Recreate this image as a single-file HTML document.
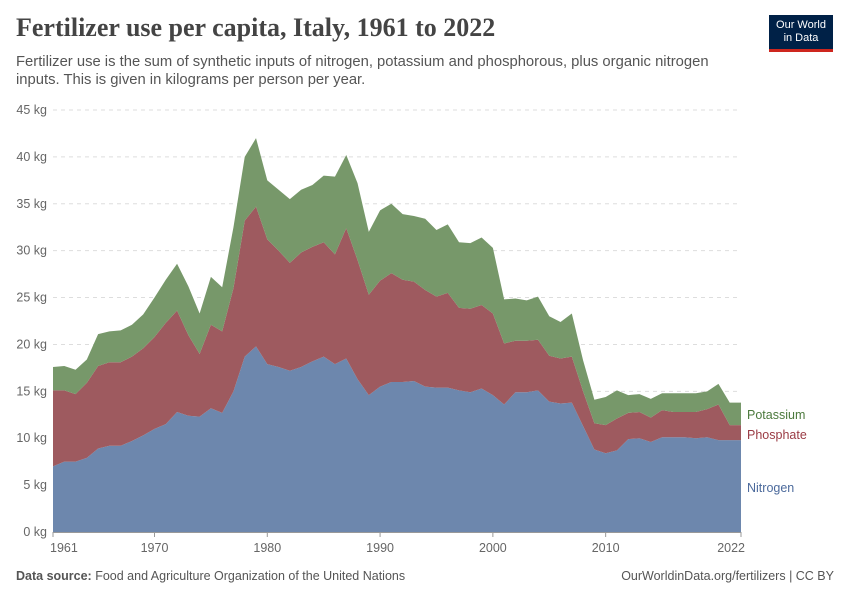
<!DOCTYPE html>
<html><head><meta charset="utf-8"><style>
body{margin:0;background:#fff;font-family:"Liberation Sans",sans-serif;}
#wrap{position:relative;width:850px;height:600px;overflow:hidden}
.t{position:absolute;white-space:nowrap}
</style></head><body>
<div id="wrap">
<div class="t" style="left:16px;top:13px;font-family:'Liberation Serif',serif;font-size:26px;color:#444;font-weight:bold">Fertilizer use per capita, Italy, 1961 to 2022</div>
<div class="t" style="left:16px;top:53px;font-size:14.8px;color:#555;line-height:18px">Fertilizer use is the sum of synthetic inputs of nitrogen, potassium and phosphorous, plus organic nitrogen<br>inputs. This is given in kilograms per person per year.</div>
<div style="position:absolute;left:769px;top:15px;width:64px;height:37px;background:#002147;color:#fff;font-size:11px;text-align:center;line-height:13px;padding-top:4px;box-sizing:border-box;border-bottom:3px solid #ce261e">Our World<br>in Data</div>
<svg id="chart" width="850" height="600" style="position:absolute;left:0;top:0"></svg>
<div class="t" style="left:16px;top:569px;font-size:12.5px;color:#555"><b>Data source:</b> Food and Agriculture Organization of the United Nations</div>
<div class="t" style="right:16px;top:569px;font-size:12.5px;color:#555">OurWorldinData.org/fertilizers | CC BY</div>
</div>
<script>
const years=[];for(let y=1961;y<=2022;y++)years.push(y);
const nitrogen=[7.0,7.5,7.5,7.9,8.9,9.2,9.2,9.7,10.3,11.0,11.5,12.8,12.4,12.3,13.2,12.7,15.0,18.7,19.8,17.9,17.6,17.2,17.6,18.2,18.7,17.9,18.5,16.3,14.6,15.5,16.0,16.0,16.1,15.5,15.4,15.4,15.1,14.9,15.3,14.6,13.6,14.9,14.9,15.1,13.9,13.7,13.8,11.3,8.8,8.4,8.7,9.9,10.0,9.6,10.1,10.1,10.1,10.0,10.1,9.8,9.8,9.8];
const phosphate=[8.1,7.6,7.2,8.0,8.8,8.9,8.9,9.0,9.3,9.8,10.8,10.8,8.6,6.7,8.9,8.7,11.0,14.5,14.9,13.3,12.4,11.5,12.2,12.2,12.2,11.7,13.9,12.7,10.7,11.3,11.6,10.9,10.6,10.3,9.7,10.1,8.8,8.9,8.9,8.7,6.5,5.5,5.5,5.4,4.9,4.8,4.9,3.7,2.8,3.0,3.4,2.8,2.8,2.6,2.9,2.7,2.7,2.8,3.0,3.8,1.6,1.6];
const potassium=[2.5,2.6,2.6,2.5,3.4,3.3,3.4,3.4,3.6,4.2,4.6,5.0,5.2,4.3,5.1,4.7,6.5,6.8,7.3,6.3,6.5,6.8,6.7,6.6,7.1,8.3,7.8,8.2,6.7,7.5,7.4,7.0,7.0,7.6,7.1,7.3,7.0,7.0,7.2,7.0,4.7,4.5,4.3,4.6,4.2,3.9,4.6,3.3,2.5,3.0,3.0,1.9,1.9,2.0,1.8,2.0,2.0,2.0,1.9,2.2,2.4,2.4];
const yTicks=[0,5,10,15,20,25,30,35,40,45];
const xTicks=[1961,1970,1980,1990,2000,2010,2022];
const seriesNames=["Nitrogen","Phosphate","Potassium"];
const NS="http://www.w3.org/2000/svg",svg=document.getElementById('chart');
const X0=53,X1=741,Y0=532,Y1=110;
const xs=y=>X0+(y-1961)/(2022-1961)*(X1-X0);
const ys=v=>Y0-v/45*(Y0-Y1);
function mk(t,a){const e=document.createElementNS(NS,t);for(const k in a)e.setAttribute(k,a[k]);svg.appendChild(e);return e;}
yTicks.forEach(v=>{
 if(v>0){const g=mk('line',{x1:X0,x2:X1,y1:ys(v),y2:ys(v),stroke:'#ddd','stroke-dasharray':'4,4'});
 
 }
 const t=mk('text',{x:47,y:ys(v)+4,'text-anchor':'end','font-size':12.5,fill:'#666','font-family':'Liberation Sans,sans-serif'});t.textContent=v+' kg';
 
 
});
const cols=['#6d87ad','#9e5a5f','#77986a'];
const series=[nitrogen,phosphate,potassium];
let base=years.map(()=>0);
series.forEach((s,i)=>{
 const top=base.map((b,j)=>b+s[j]);
 let d='M'+years.map((y,j)=>xs(y)+','+ys(top[j])).join('L');
 for(let j=years.length-1;j>=0;j--)d+='L'+xs(years[j])+','+ys(base[j]);
 const p=mk('path',{d:d+'Z',fill:cols[i]});
 
 
 base=top;
});
const ax=mk('line',{x1:X0,x2:X1,y1:Y0+0.5,y2:Y0+0.5,stroke:'#999'});


xTicks.forEach(y=>{
 const tk=mk('line',{x1:xs(y),x2:xs(y),y1:Y0,y2:Y0+5,stroke:'#999'});
 
 
 const t=mk('text',{x:xs(y),y:Y0+20,'text-anchor':y===1961?'start':(y===2022?'end':'middle'),'font-size':12.5,fill:'#666','font-family':'Liberation Sans,sans-serif'});
 if(y===1961)t.setAttribute('x',xs(y)-3);
 if(y===2022)t.setAttribute('x',xs(y)+4);
 t.textContent=y;
 
 
});
const labs=[['Potassium',419,'#4c7a3d'],['Phosphate',439,'#9a3b44'],['Nitrogen',492,'#4c6a9c']];
labs.forEach(l=>{const t=mk('text',{x:747,y:l[1],'font-size':12.5,fill:l[2],'font-family':'Liberation Sans,sans-serif'});t.textContent=l[0];
 
 });
</script>
</body></html>
